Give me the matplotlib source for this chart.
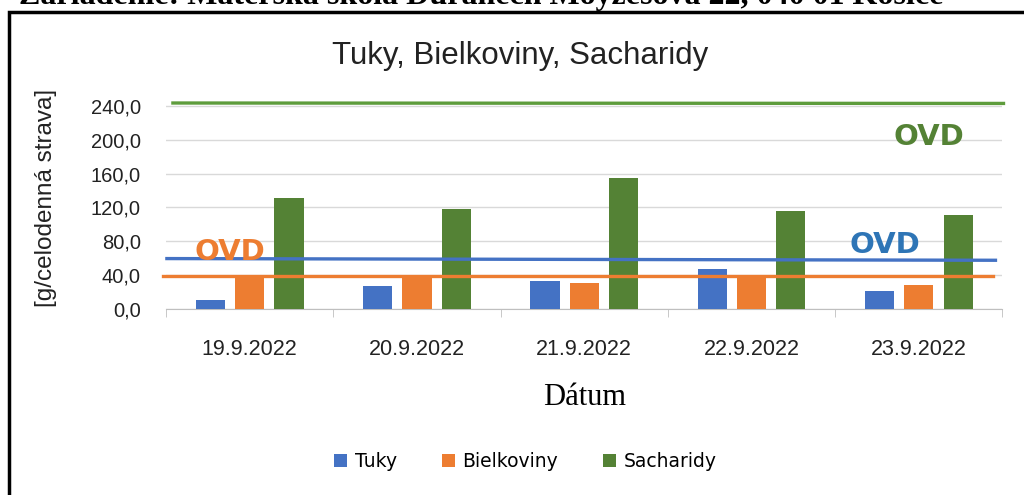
import numpy as np
import matplotlib.pyplot as plt
from matplotlib.patches import Rectangle

# Údaje
datumy = ['19.9.2022', '20.9.2022', '21.9.2022', '22.9.2022', '23.9.2022']
tuky = [10.0, 26.5, 33.5, 47.5, 21.5]
bielkoviny = [38.5, 38.5, 31.0, 38.5, 28.5]
sacharidy = [131.0, 118.5, 154.5, 116.0, 111.0]

# OVD (odporúčané výživové dávky) - začiatok a koniec čiary
ovd_sacharidy = [243.5, 243.0]
ovd_bielkoviny = [39.0, 39.0]
ovd_tuky = [59.5, 57.5]

y_ticks = [0, 40, 80, 120, 160, 200, 240]

c_tuky = '#4472C4'
c_biel = '#ED7D31'
c_sach = '#548235'

fig = plt.figure(figsize=(10.24, 4.95), dpi=100)
ax = fig.add_axes([0.162, 0.376, 0.817, 0.427])

x = np.arange(len(datumy))
w = 0.175
off = 0.235
ax.bar(x - off, tuky, w, color=c_tuky, label='Tuky', zorder=3)
ax.bar(x, bielkoviny, w, color=c_biel, label='Bielkoviny', zorder=3)
ax.bar(x + off, sacharidy, w, color=c_sach, label='Sacharidy', zorder=3)

# čiary OVD
ax.plot([-0.458, 4.506], ovd_sacharidy, color='#5E9C3C', lw=2.4, zorder=4, clip_on=False)
ax.plot([-0.518, 4.446], ovd_bielkoviny, color=c_biel, lw=2.4, zorder=4, clip_on=False)
ax.plot([-0.494, 4.458], ovd_tuky, color=c_tuky, lw=2.4, zorder=4, clip_on=False)

ax.text(-0.117, 67, 'OVD', color=c_biel, fontsize=21, fontweight='bold',
        ha='center', va='center', zorder=5)
ax.text(3.80, 75, 'OVD', color='#2E75B6', fontsize=21, fontweight='bold',
        ha='center', va='center', zorder=5)
ax.text(4.06, 203, 'OVD', color=c_sach, fontsize=21, fontweight='bold',
        ha='center', va='center', zorder=5)

ax.set_xlim(-0.5, 4.5)
ax.set_ylim(0, 250)
ax.set_yticks(y_ticks)
ax.set_yticklabels([f'{v:.1f}'.replace('.', ',') for v in y_ticks],
                   fontsize=14.5, family='Liberation Sans', color='#222222')
ax.set_xticks(x)
ax.set_xticklabels(datumy, fontsize=15.5, family='Liberation Sans', color='#222222')
ax.set_xticks(np.arange(-0.5, 5, 1), minor=True)
ax.tick_params(axis='x', which='major', length=0, pad=22)
ax.tick_params(axis='x', which='minor', length=6, color='#bfbfbf')
ax.tick_params(axis='y', length=0, pad=18)
ax.grid(axis='y', color='#d9d9d9', lw=1, zorder=0)
for s in ['top', 'right', 'left']:
    ax.spines[s].set_visible(False)
ax.spines['bottom'].set_color('#bfbfbf')

ax.set_xlabel('Dátum', fontsize=22, family='Liberation Serif', labelpad=16)
fig.text(0.045, 0.6, '[g/celodenná strava]', rotation=90, fontsize=17.5,
         family='Liberation Sans', ha='center', va='center', color='#222222')
fig.text(0.508, 0.886, 'Tuky, Bielkoviny, Sacharidy', fontsize=22.5,
         family='Liberation Sans', ha='center', va='center', color='#222222')

fig.legend(loc='center', bbox_to_anchor=(0.513, 0.067), ncol=3, frameon=False,
           fontsize=13.5, handlelength=0.7, handleheight=0.7, columnspacing=2.4,
           handletextpad=0.4)

# rámček a orezaný nadpis
fig.patches.append(Rectangle((0.009, -0.1), 1.2, 1.075, transform=fig.transFigure,
                             fill=False, edgecolor='black', lw=2.5))
fig.text(0.019, 0.992, 'Zariadenie: Materská škola Ďuranech Moyzesova 22, 040 01 Košice',
         fontsize=23, fontweight='bold', family='Liberation Serif', va='baseline', ha='left')

fig.savefig('out.png', dpi=100)
